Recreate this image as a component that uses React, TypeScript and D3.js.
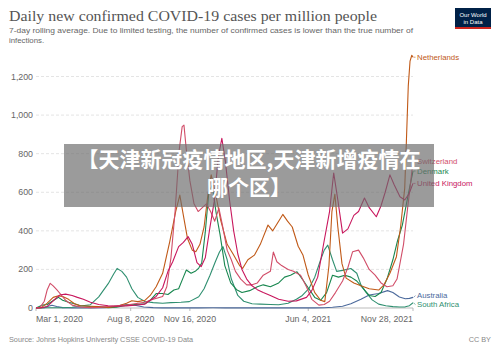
import React, { useRef, useEffect } from 'react';
import * as d3 from 'd3';

type Point = [string, number];

const netherlands: Point[] = [
  ['2020-03-01', 0], ['2020-03-10', 2], ['2020-03-20', 25], ['2020-03-30', 55], ['2020-04-08', 63],
  ['2020-04-15', 60], ['2020-04-25', 45], ['2020-05-05', 22], ['2020-05-15', 12], ['2020-06-01', 9],
  ['2020-06-15', 7], ['2020-07-01', 3], ['2020-07-15', 8], ['2020-08-01', 25], ['2020-08-10', 38],
  ['2020-08-20', 33], ['2020-09-01', 40], ['2020-09-10', 65], ['2020-09-20', 110], ['2020-10-01', 180],
  ['2020-10-13', 344], ['2020-10-23', 500], ['2020-10-30', 585], ['2020-11-05', 480], ['2020-11-12', 360],
  ['2020-11-20', 300], ['2020-11-26', 292], ['2020-12-03', 330], ['2020-12-10', 420], ['2020-12-17', 600],
  ['2020-12-22', 690], ['2020-12-29', 600], ['2021-01-07', 455], ['2021-01-18', 330], ['2021-01-28', 280],
  ['2021-02-08', 220], ['2021-02-13', 205], ['2021-02-22', 250], ['2021-03-05', 274], ['2021-03-15', 330],
  ['2021-03-28', 430], ['2021-04-05', 400], ['2021-04-15', 450], ['2021-04-22', 485], ['2021-04-30', 450],
  ['2021-05-08', 420], ['2021-05-18', 320], ['2021-05-26', 275], ['2021-06-04', 171], ['2021-06-15', 80],
  ['2021-06-25', 40], ['2021-07-02', 33], ['2021-07-09', 220], ['2021-07-14', 500], ['2021-07-19', 590],
  ['2021-07-24', 420], ['2021-07-31', 230], ['2021-08-07', 155], ['2021-08-20', 130], ['2021-09-01', 115],
  ['2021-09-15', 100], ['2021-10-01', 93], ['2021-10-10', 120], ['2021-10-20', 180], ['2021-10-31', 266],
  ['2021-11-07', 420], ['2021-11-14', 620], ['2021-11-17', 880], ['2021-11-20', 1150], ['2021-11-23', 1280],
  ['2021-11-26', 1310], ['2021-11-28', 1300],
];

const switzerland: Point[] = [
  ['2020-03-01', 0], ['2020-03-08', 3], ['2020-03-15', 35], ['2020-03-20', 95], ['2020-03-25', 128],
  ['2020-03-30', 115], ['2020-04-05', 95], ['2020-04-12', 70], ['2020-04-20', 40], ['2020-05-01', 15],
  ['2020-05-15', 5], ['2020-06-01', 2], ['2020-06-15', 3], ['2020-07-01', 8], ['2020-07-15', 12],
  ['2020-08-01', 15], ['2020-08-15', 22], ['2020-09-01', 30], ['2020-09-15', 45], ['2020-10-01', 60],
  ['2020-10-08', 110], ['2020-10-15', 260], ['2020-10-22', 500], ['2020-10-29', 820], ['2020-11-03', 940],
  ['2020-11-06', 948], ['2020-11-10', 820], ['2020-11-16', 660], ['2020-11-23', 540], ['2020-11-30', 500],
  ['2020-12-07', 520], ['2020-12-14', 540], ['2020-12-21', 500], ['2020-12-28', 450], ['2021-01-04', 518],
  ['2021-01-10', 430], ['2021-01-18', 300], ['2021-01-25', 250], ['2021-02-01', 190], ['2021-02-10', 150],
  ['2021-02-20', 120], ['2021-03-01', 120], ['2021-03-10', 130], ['2021-03-20', 170], ['2021-04-01', 190],
  ['2021-04-06', 290], ['2021-04-12', 240], ['2021-04-20', 220], ['2021-05-01', 200], ['2021-05-10', 190],
  ['2021-05-22', 170], ['2021-06-01', 110], ['2021-06-10', 45], ['2021-06-22', 15], ['2021-07-01', 18],
  ['2021-07-10', 35], ['2021-07-20', 80], ['2021-08-01', 140], ['2021-08-10', 210], ['2021-08-18', 292],
  ['2021-08-28', 300], ['2021-09-05', 260], ['2021-09-15', 200], ['2021-09-25', 170], ['2021-10-05', 130],
  ['2021-10-15', 110], ['2021-10-25', 115], ['2021-11-01', 150], ['2021-11-05', 214], ['2021-11-12', 330],
  ['2021-11-19', 520], ['2021-11-24', 650], ['2021-11-28', 760],
];

const denmark: Point[] = [
  ['2020-03-01', 0], ['2020-03-12', 15], ['2020-03-20', 18], ['2020-03-31', 40], ['2020-04-08', 55],
  ['2020-04-15', 40], ['2020-04-25', 30], ['2020-05-05', 22], ['2020-05-15', 12], ['2020-06-01', 8],
  ['2020-06-15', 6], ['2020-07-01', 2], ['2020-07-15', 4], ['2020-08-01', 15], ['2020-08-15', 18],
  ['2020-09-01', 22], ['2020-09-10', 40], ['2020-09-20', 75], ['2020-10-01', 75], ['2020-10-10', 70],
  ['2020-10-20', 93], ['2020-10-28', 100], ['2020-11-05', 160], ['2020-11-10', 197], ['2020-11-18', 180],
  ['2020-11-25', 190], ['2020-12-01', 207], ['2020-12-06', 233], ['2020-12-12', 393], ['2020-12-18', 600],
  ['2020-12-24', 637], ['2020-12-30', 500], ['2021-01-06', 380], ['2021-01-14', 220], ['2021-01-24', 130],
  ['2021-02-03', 95], ['2021-02-12', 80], ['2021-02-25', 90], ['2021-03-10', 110], ['2021-03-20', 120],
  ['2021-04-01', 110], ['2021-04-15', 130], ['2021-04-25', 160], ['2021-05-05', 170], ['2021-05-16', 188],
  ['2021-05-25', 150], ['2021-06-05', 100], ['2021-06-15', 55], ['2021-06-25', 40], ['2021-07-05', 80],
  ['2021-07-15', 170], ['2021-07-25', 160], ['2021-08-05', 170], ['2021-08-15', 160], ['2021-08-25', 140],
  ['2021-09-05', 100], ['2021-09-15', 65], ['2021-09-25', 60], ['2021-10-05', 80], ['2021-10-15', 150],
  ['2021-10-25', 250], ['2021-11-02', 350], ['2021-11-10', 430], ['2021-11-16', 525], ['2021-11-22', 620],
  ['2021-11-28', 710],
];

const unitedKingdom: Point[] = [
  ['2020-03-01', 0], ['2020-03-10', 1], ['2020-03-20', 8], ['2020-03-31', 40], ['2020-04-10', 67],
  ['2020-04-20', 72], ['2020-05-01', 65], ['2020-05-10', 55], ['2020-05-20', 45], ['2020-06-01', 30],
  ['2020-06-15', 18], ['2020-07-01', 12], ['2020-07-15', 9], ['2020-08-01', 11], ['2020-08-15', 14],
  ['2020-09-01', 20], ['2020-09-10', 40], ['2020-09-20', 60], ['2020-10-01', 105], ['2020-10-10', 190],
  ['2020-10-18', 240], ['2020-10-28', 318], ['2020-11-05', 340], ['2020-11-13', 370], ['2020-11-20', 330],
  ['2020-11-28', 235], ['2020-12-05', 214], ['2020-12-12', 260], ['2020-12-20', 420], ['2020-12-27', 550],
  ['2021-01-03', 780], ['2021-01-09', 880], ['2021-01-15', 760], ['2021-01-22', 560], ['2021-01-29', 400],
  ['2021-02-05', 280], ['2021-02-12', 200], ['2021-02-20', 150], ['2021-03-01', 115], ['2021-03-10', 95],
  ['2021-03-20', 80], ['2021-04-01', 65], ['2021-04-15', 45], ['2021-05-01', 35], ['2021-05-15', 37],
  ['2021-06-01', 55], ['2021-06-10', 90], ['2021-06-20', 160], ['2021-07-01', 350], ['2021-07-10', 500],
  ['2021-07-17', 700], ['2021-07-24', 560], ['2021-08-01', 388], ['2021-08-10', 410], ['2021-08-20', 480],
  ['2021-08-28', 500], ['2021-09-07', 570], ['2021-09-15', 520], ['2021-09-27', 473], ['2021-10-05', 530],
  ['2021-10-12', 600], ['2021-10-20', 690], ['2021-10-27', 640], ['2021-11-06', 577], ['2021-11-14', 560],
  ['2021-11-21', 590], ['2021-11-28', 646],
];

const australia: Point[] = [
  ['2020-03-01', 0], ['2020-03-15', 2], ['2020-03-22', 9], ['2020-03-28', 14], ['2020-04-05', 8],
  ['2020-04-15', 2], ['2020-05-01', 0.7], ['2020-06-01', 0.5], ['2020-06-25', 1.5], ['2020-07-10', 7],
  ['2020-07-25', 15], ['2020-08-05', 18], ['2020-08-15', 14], ['2020-08-30', 5], ['2020-09-15', 2],
  ['2020-10-01', 0.6], ['2020-11-01', 0.4], ['2020-12-01', 0.4], ['2020-12-25', 1], ['2021-01-15', 0.6],
  ['2021-02-15', 0.4], ['2021-04-01', 0.5], ['2021-05-15', 0.4], ['2021-06-15', 0.8], ['2021-07-01', 1.5],
  ['2021-07-15', 4], ['2021-08-01', 9], ['2021-08-15', 22], ['2021-09-01', 45], ['2021-09-15', 67],
  ['2021-10-01', 75], ['2021-10-16', 90], ['2021-10-25', 80], ['2021-11-05', 57], ['2021-11-15', 48],
  ['2021-11-22', 50], ['2021-11-28', 55],
];

const southAfrica: Point[] = [
  ['2020-03-01', 0], ['2020-03-20', 1], ['2020-04-01', 1.5], ['2020-04-15', 1.5], ['2020-05-01', 4],
  ['2020-05-15', 10], ['2020-06-01', 17], ['2020-06-15', 58], ['2020-07-01', 126], ['2020-07-10', 175],
  ['2020-07-16', 205], ['2020-07-24', 190], ['2020-08-01', 160], ['2020-08-10', 100], ['2020-08-20', 55],
  ['2020-09-01', 34], ['2020-09-15', 28], ['2020-10-01', 25], ['2020-10-15', 28], ['2020-11-01', 30],
  ['2020-11-15', 33], ['2020-12-01', 58], ['2020-12-10', 100], ['2020-12-20', 170], ['2020-12-29', 240],
  ['2021-01-05', 290], ['2021-01-11', 318], ['2021-01-18', 250], ['2021-01-25', 150], ['2021-02-05', 65],
  ['2021-02-15', 35], ['2021-03-01', 22], ['2021-03-15', 20], ['2021-04-01', 18], ['2021-04-15', 17],
  ['2021-05-01', 25], ['2021-05-15', 45], ['2021-05-25', 65], ['2021-06-05', 100], ['2021-06-15', 160],
  ['2021-06-25', 250], ['2021-07-01', 300], ['2021-07-07', 326], ['2021-07-15', 250], ['2021-07-22', 190],
  ['2021-08-01', 195], ['2021-08-15', 205], ['2021-08-25', 180], ['2021-09-01', 120], ['2021-09-10', 80],
  ['2021-09-20', 42], ['2021-10-01', 20], ['2021-10-13', 12], ['2021-10-25', 7], ['2021-11-05', 5],
  ['2021-11-15', 6], ['2021-11-22', 12], ['2021-11-28', 27],
];

const series = [
  { name: 'Australia', color: '#4c6a9c', data: australia },
  { name: 'South Africa', color: '#2f8f70', data: southAfrica },
  { name: 'Denmark', color: '#18874f', data: denmark },
  { name: 'Netherlands', color: '#c05917', data: netherlands },
  { name: 'Switzerland', color: '#d14d68', data: switzerland },
  { name: 'United Kingdom', color: '#c8175d', data: unitedKingdom },
];

const yTicks = [0, 200, 400, 600, 800, 1000, 1200];
const xTicks = ['2020-03-01', '2020-08-08', '2020-11-16', '2021-06-04', '2021-11-28'];

const title = 'Daily new confirmed COVID-19 cases per million people';
const subtitle = [
  '7-day rolling average. Due to limited testing, the number of confirmed cases is lower than the true number of',
  'infections.',
];
const overlayLines = ['【天津新冠疫情地区,天津新增疫情在', '哪个区】'];

const App: React.FC = () => {
  const svgRef = useRef<SVGSVGElement | null>(null);

  useEffect(() => {
    const svg = d3.select(svgRef.current);
    svg.selectAll('*').remove();
    const width = 500;
    const height = 352;
    const sans = '"Liberation Sans", Arial, sans-serif';
    const parse = d3.timeParse('%Y-%m-%d');

    svg.append('rect').attr('width', width).attr('height', height).attr('fill', '#fff');

    const x = d3
      .scaleTime()
      .domain([parse('2020-03-01') as Date, parse('2021-11-28') as Date])
      .range([36, 413]);
    const y = d3.scaleLinear().domain([0, 1200]).range([308, 76.5]);

    // title + subtitle
    svg.append('text')
      .attr('x', 9)
      .attr('y', 21)
      .attr('font-family', '"Liberation Serif", "DejaVu Serif", serif')
      .attr('font-size', 15.5)
      .attr('fill', '#555')
      .attr('textLength', 368)
      .attr('lengthAdjust', 'spacingAndGlyphs')
      .text(title);

    subtitle.forEach((line, i) => {
      const t = svg.append('text')
        .attr('x', 9)
        .attr('y', 33 + i * 10)
        .attr('font-family', sans)
        .attr('font-size', 7.8)
        .attr('fill', '#666')
        .text(line);
      if (i === 0) t.attr('textLength', 404).attr('lengthAdjust', 'spacingAndGlyphs');
    });

    // logo
    const logo = svg.append('g');
    logo.append('rect').attr('x', 455).attr('y', 8).attr('width', 36).attr('height', 21).attr('fill', '#002147');
    logo.append('rect').attr('x', 455).attr('y', 27).attr('width', 36).attr('height', 2).attr('fill', '#ce261e');
    ['Our World', 'in Data'].forEach((t, i) => {
      logo.append('text')
        .attr('x', 473)
        .attr('y', 16.5 + i * 7)
        .attr('text-anchor', 'middle')
        .attr('font-family', sans)
        .attr('font-size', 6)
        .attr('fill', '#fff')
        .text(t);
    });

    // grid + y labels
    yTicks.forEach(t => {
      if (t > 0) {
        svg.append('line')
          .attr('x1', 36).attr('x2', 413)
          .attr('y1', y(t)).attr('y2', y(t))
          .attr('stroke', '#ddd')
          .attr('stroke-dasharray', '3,2')
          .attr('stroke-width', 0.8);
      }
      svg.append('text')
        .attr('x', 33)
        .attr('y', y(t))
        .attr('dy', '0.35em')
        .attr('text-anchor', 'end')
        .attr('font-family', sans)
        .attr('font-size', 8.8)
        .attr('fill', '#666')
        .text(d3.format(',')(t));
    });

    // x axis
    svg.append('line')
      .attr('x1', 36).attr('x2', 413)
      .attr('y1', 308).attr('y2', 308)
      .attr('stroke', '#aaa')
      .attr('stroke-width', 0.8);

    const fmt = d3.timeFormat('%b %-d, %Y');
    xTicks.forEach((s, i) => {
      const d = parse(s) as Date;
      const px = x(d);
      svg.append('line')
        .attr('x1', px).attr('x2', px)
        .attr('y1', 308).attr('y2', 311)
        .attr('stroke', '#aaa')
        .attr('stroke-width', 0.8);
      svg.append('text')
        .attr('x', px)
        .attr('y', 322)
        .attr('text-anchor', i === 0 ? 'start' : i === xTicks.length - 1 ? 'end' : 'middle')
        .attr('font-family', sans)
        .attr('font-size', 8.8)
        .attr('fill', '#666')
        .text(fmt(d));
    });

    // lines
    const line = d3
      .line<Point>()
      .x(d => x(parse(d[0]) as Date))
      .y(d => y(d[1]));

    series.forEach(s => {
      svg.append('path')
        .datum(s.data)
        .attr('d', line as any)
        .attr('fill', 'none')
        .attr('stroke', s.color)
        .attr('stroke-width', 1.1)
        .attr('stroke-linejoin', 'round');
    });

    // end labels with simple collision pass
    const labels = series.map(s => {
      const last = s.data[s.data.length - 1];
      const y0 = y(last[1]);
      return { name: s.name, color: s.color, x0: x(parse(last[0]) as Date), y0, ly: y0 };
    });
    labels.sort((a, b) => a.ly - b.ly);
    for (let iter = 0; iter < 30; iter++) {
      for (let i = 1; i < labels.length; i++) {
        const gap = labels[i].ly - labels[i - 1].ly;
        if (gap < 9) {
          const shift = (9 - gap) / 2;
          labels[i - 1].ly -= shift;
          labels[i].ly += shift;
        }
      }
    }
    labels.forEach(l => {
      svg.append('line')
        .attr('x1', l.x0 + 0.5).attr('y1', l.y0)
        .attr('x2', l.x0 + 2.5).attr('y2', l.ly)
        .attr('stroke', l.color)
        .attr('stroke-width', 0.6);
      svg.append('text')
        .attr('x', l.x0 + 4)
        .attr('y', l.ly)
        .attr('dy', '0.35em')
        .attr('font-family', sans)
        .attr('font-size', 7.8)
        .attr('fill', l.color)
        .text(l.name);
    });

    // footer
    svg.append('text')
      .attr('x', 9)
      .attr('y', 342)
      .attr('font-family', sans)
      .attr('font-size', 7.3)
      .attr('fill', '#888')
      .text('Source: Johns Hopkins University CSSE COVID-19 Data');
    svg.append('text')
      .attr('x', 491)
      .attr('y', 342)
      .attr('text-anchor', 'end')
      .attr('font-family', sans)
      .attr('font-size', 7.3)
      .attr('fill', '#888')
      .text('CC BY');

    // watermark banner on top
    svg.append('rect')
      .attr('x', 64).attr('y', 144)
      .attr('width', 370).attr('height', 63)
      .attr('fill', 'rgb(108,108,108)')
      .attr('fill-opacity', 0.68);
    overlayLines.forEach((t, i) => {
      svg.append('text')
        .attr('x', 249)
        .attr('y', 167 + i * 28)
        .attr('text-anchor', 'middle')
        .attr('font-family', '"Noto Sans CJK SC", sans-serif')
        .attr('font-weight', 700)
        .attr('font-size', 21)
        .attr('fill', '#fff')
        .text(t);
    });
  }, []);

  return (
    <svg
      ref={svgRef}
      width={500}
      height={352}
      style={{ position: 'absolute', left: 0, top: 0, display: 'block' }}
    />
  );
};

export default App;
